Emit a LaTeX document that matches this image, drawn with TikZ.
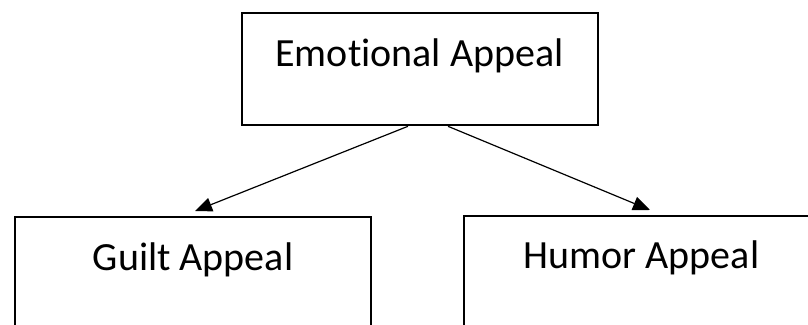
\documentclass[tikz,border=0pt]{standalone}
\usepackage{fontspec}
\setmainfont{Carlito}[Ligatures=NoCommon]
\usetikzlibrary{arrows.meta}
\begin{document}
\begin{tikzpicture}[x=1pt,y=-1pt,
    every node/.style = {font=\fontsize{40}{44}\selectfont},
    box/.style = {draw, line width=2pt, minimum width=356pt,
      inner xsep=0pt, inner ysep=0pt, text height=53pt, text depth=59pt},
    link/.style = {line width=1.2pt, -{Triangle[length=17pt,width=14pt]}}]
    \useasboundingbox (0,0) rectangle (808,324);
    \node[box] (emotional) at (419.5,69.3) {Emotional Appeal};
    \node[box] (guilt) at (193,273) {Guilt Appeal};
    \node[box] (humor) at (641.5,271.7) {Humor Appeal};
    \draw[link] ([xshift=-11.5pt]emotional.south) -- ([xshift=2pt,yshift=5pt]guilt.north);
    \draw[link] ([xshift=28.5pt]emotional.south) -- ([xshift=8.5pt,yshift=4.7pt]humor.north);
  \end{tikzpicture}
\end{document}
